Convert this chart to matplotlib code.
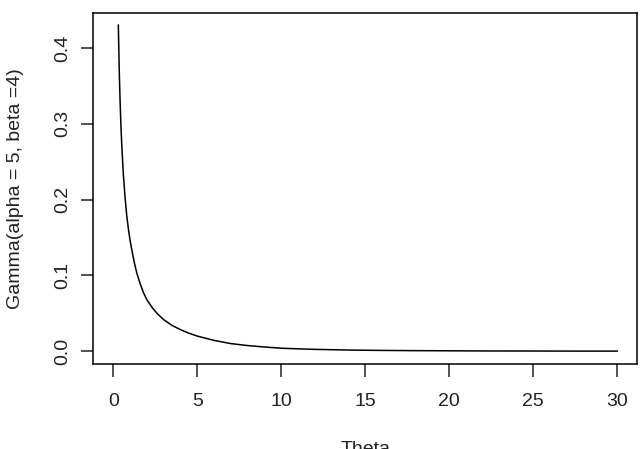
import matplotlib
matplotlib.use("Agg")
import matplotlib.pyplot as plt

# Values
theta = [0.30, 0.35, 0.40, 0.45, 0.50, 0.55, 0.60, 0.70, 0.80, 0.90, 1.0, 1.1,
         1.25, 1.4, 1.6, 1.8, 2.0, 2.3, 2.6, 3.0, 3.5, 4.0, 4.5, 5.0, 6.0, 7.0,
         8.0, 9.0, 10.0, 11.0, 12.0, 14.0, 16.0, 18.0, 20.0, 22.0, 25.0, 28.0, 30.0]
density = [0.430, 0.374, 0.333, 0.300, 0.274, 0.253, 0.233, 0.203, 0.179, 0.161,
           0.146, 0.134, 0.117, 0.103, 0.089, 0.077, 0.068, 0.058, 0.050, 0.0417,
           0.034, 0.0285, 0.0238, 0.020, 0.0143, 0.0101, 0.0075, 0.0056, 0.0040,
           0.0032, 0.0025, 0.0016, 0.0011, 0.0008, 0.0006, 0.0004, 0.0003, 0.0002,
           0.0002]
xticks = [0, 5, 10, 15, 20, 25, 30]
yticks = [0.0, 0.1, 0.2, 0.3, 0.4]
ytick_labels = ["0.0", "0.1", "0.2", "0.3", "0.4"]
xlabel = "Theta"
ylabel = "Gamma(alpha = 5, beta =4)"

plt.rcParams['font.family'] = ['Liberation Sans', 'DejaVu Sans']
FS = 14

W, H = 643, 449
fig = plt.figure(figsize=(W / 100, H / 100), dpi=100)
left_px, right_px, top_px, bottom_px = 93.3, 637.3, 13.0, 364.3
ax = fig.add_axes([left_px / W, 1 - bottom_px / H,
                   (right_px - left_px) / W, (bottom_px - top_px) / H])

ax.plot(theta, density, color='black', linewidth=1.1)

ax.set_xlim(-1.19, 31.19)
ax.set_ylim(-0.0172, 0.4460)
ax.set_xticks(xticks)
ax.set_xticklabels([str(t) for t in xticks])
ax.set_yticks(yticks)
ax.set_yticklabels(ytick_labels, rotation=90, va='center')

for s in ax.spines.values():
    s.set_linewidth(1.1)
    s.set_color('black')

ax.tick_params(axis='x', direction='out', length=9.4, width=1.1,
               pad=11.5, labelsize=FS, colors='#222222')
ax.tick_params(axis='y', direction='out', length=9.0, width=1.1,
               pad=7.0, labelsize=FS, colors='#222222')

# axis titles placed like R's mtext
fig.text((left_px + right_px) / 2 / W, (H - 453.9) / H, xlabel,
         ha='center', va='baseline', fontsize=FS, color='#222222')
fig.text(20.0 / W, 1 - (top_px + bottom_px) / 2 / H, ylabel,
         rotation=90, rotation_mode='anchor', ha='center', va='baseline',
         fontsize=FS, color='#222222')

fig.savefig("out.png", dpi=100)
